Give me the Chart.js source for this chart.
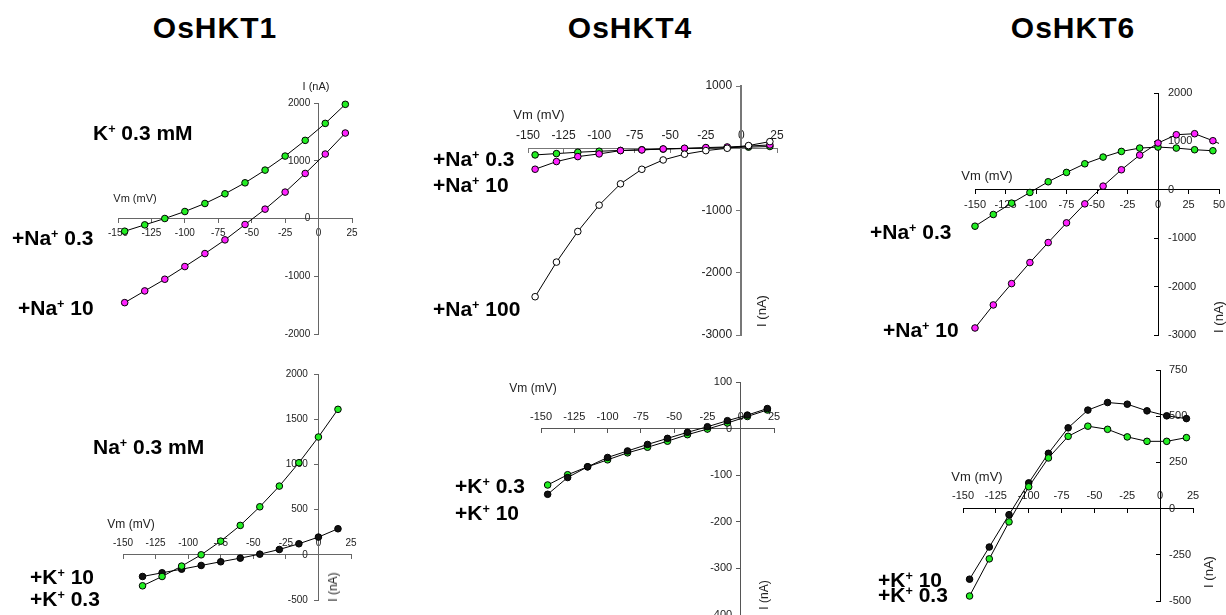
<!DOCTYPE html>
<html>
<head>
<meta charset="utf-8">
<script src="https://cdn.jsdelivr.net/npm/chart.js@4.4.1/dist/chart.umd.min.js"></script>
<style>
  body { margin:0; width:1226px; height:615px; overflow:hidden; background:#fff; position:relative;
         font-family: Arial, "Liberation Sans", sans-serif; }
  .box { position:absolute; }
  .title { position:absolute; font-weight:bold; font-size:30px; line-height:1; letter-spacing:1px;
           transform:translate(-50%,-50%); white-space:nowrap; }
  .lbl { position:absolute; font-weight:bold; font-size:21px; line-height:1; white-space:nowrap;
         transform:translateY(-50%); }
  .lbl sup { font-size:0.6em; position:relative; top:-0.55em; vertical-align:baseline; }
  .ax { position:absolute; white-space:nowrap; color:#222; line-height:1; transform:translate(-50%,-50%); }
  .ax.rot { transform:translate(-50%,-50%) rotate(-90deg); }
</style>
</head>
<body>
<script>
// I-V curves, Vm in mV, I in nA
const vmA = [-145, -130, -115, -100, -85, -70, -55, -40, -25, -10, 5, 20];
const vmB = [-135, -120, -105, -90, -75, -60, -45, -30, -15, 0, 15];
const vmC = [-150, -135, -120, -105, -90, -75, -60, -45, -30, -15, 0, 15, 30, 45, 60];

// OsHKT1, K+ 0.3 mM background
const hkt1_na03 = [-220, -110, 0, 121, 260, 428, 618, 838, 1081, 1353, 1647, 1977];
const hkt1_na10 = [-1457, -1254, -1052, -832, -607, -370, -104, 162, 457, 780, 1116, 1480];
// OsHKT1, Na+ 0.3 mM background
const hkt1_k03 = [-343, -240, -125, 0, 151, 325, 531, 760, 1018, 1303, 1609];
const hkt1_k10 = [-240, -199, -159, -118, -77, -37, 7, 59, 122, 196, 288];

// OsHKT4
const hkt4_na03 = [-107, -86, -64, -48, -35, -24, -14, -5, 3, 10, 18, 28];
const hkt4_na10 = [-337, -214, -134, -91, -38, -27, -11, 0, 11, 21, 35, 53];
const hkt4_na100 = [-2385, -1829, -1337, -914, -572, -338, -188, -96, -38, 0, 43, 107];
const hkt4_k03 = [-121, -99, -82, -67, -52, -40, -27, -13, -1, 12, 26, 40];
const hkt4_k10 = [-141, -105, -82, -62, -48, -34, -21, -8, 4, 17, 29, 43];

// OsHKT6
const hkt6_na03 = [-752, -510, -276, -55, 166, 359, 538, 676, 793, 862, 883, 862, 828, 807];
const hkt6_na10 = [-2855, -2379, -1938, -1503, -1090, -683, -290, 76, 414, 717, 966, 1138, 1159, 1014, 845];
const hkt6_k10 = [-382, -208, -33, 139, 299, 437, 533, 574, 565, 529, 502, 487];
const hkt6_k03 = [-473, -272, -72, 118, 274, 391, 446, 429, 388, 364, 364, 384];

const GREEN = '#22ee22', MAGENTA = '#ff22ff', BLACK = '#111111', WHITE = '#ffffff';
const FONT = 'Arial, "Liberation Sans", sans-serif';

function series(xs, ys, fill, clipRight) {
  return {
    data: ys.map((y, i) => ({ x: xs[i], y })),
    showLine: true,
    borderColor: '#000', borderWidth: 1,
    pointBackgroundColor: fill, pointBorderColor: '#000', pointBorderWidth: 1,
    pointRadius: 3.3,
    clip: { left: 8, top: 8, bottom: 8, right: clipRight == null ? 8 : clipRight }
  };
}

function makePanel(p) {
  const P = 40;
  const [l, t, r, b] = p.area;
  const w = r - l + 2 * P, h = b - t + 2 * P;
  const wrap = document.createElement('div');
  wrap.className = 'box';
  wrap.style.left = (l - P) + 'px';
  wrap.style.top = (t - P) + 'px';
  const cv = document.createElement('canvas');
  cv.width = w; cv.height = h;
  wrap.appendChild(cv);
  document.body.appendChild(wrap);
  const tickFont = { family: FONT, size: p.font };
  const gap = p.gap || '';
  const fmt = v => (p.hideY0 && v === 0) ? '' : String(v) + gap;
  const scales = {
    x: {
      type: 'linear', position: { y: 0 }, min: p.x[0], max: p.x[1],
      ticks: { stepSize: p.x[2], font: tickFont, color: '#222', padding: p.xPad,
               maxRotation: 0, autoSkip: false, callback: v => String(v) },
      grid: { drawOnChartArea: false, tickLength: 4, color: p.axis },
      border: { color: p.axis, width: 1 }
    },
    y: {
      type: 'linear', position: { x: 0 }, min: p.y[0], max: p.y[1],
      ticks: { display: p.rightLabels == null, stepSize: p.y[2], font: tickFont, color: '#222',
               autoSkip: false, callback: fmt },
      grid: { drawOnChartArea: false, tickLength: 4, color: p.axis },
      border: { color: p.axis, width: p.yw || 1 }
    }
  };
  if (p.rightLabels != null) {
    // tick labels sitting on the right side of the zero axis
    scales.yl = {
      type: 'linear', position: 'left', min: p.y[0], max: p.y[1],
      ticks: { stepSize: p.y[2], font: tickFont, color: '#222', mirror: true,
               padding: p.rightLabels, autoSkip: false, callback: v => String(v) },
      grid: { display: false }, border: { display: false },
      afterFit: s => { s.width = 0; s.paddingTop = 6; s.paddingBottom = 6; }
    };
  }
  new Chart(cv, {
    type: 'scatter',
    data: { datasets: p.sets },
    options: {
      responsive: false, animation: false, events: [],
      layout: { padding: P },
      plugins: { legend: { display: false }, tooltip: { enabled: false } },
      scales
    }
  });
}

makePanel({ area: [118, 103, 352, 334], x: [-150, 25, 25], y: [-2000, 2000, 1000], font: 10,
  xPad: 5, gap: '   ', axis: '#666',
  sets: [series(vmA, hkt1_na03, GREEN), series(vmA, hkt1_na10, MAGENTA)] });
makePanel({ area: [123, 374, 351, 600], x: [-150, 25, 25], y: [-500, 2000, 500], font: 10,
  xPad: -22, gap: '\u2002  ', axis: '#666',
  sets: [series(vmB, hkt1_k03, GREEN), series(vmB, hkt1_k10, BLACK)] });
makePanel({ area: [528, 86, 777, 335], x: [-150, 25, 25], y: [-3000, 1000, 1000], font: 12,
  xPad: -24, gap: '\u2002 ', axis: '#777', yw: 2, hideY0: true,
  sets: [series(vmA, hkt4_na100, WHITE), series(vmA, hkt4_na10, MAGENTA), series(vmA, hkt4_na03, GREEN)] });
makePanel({ area: [541, 382, 774, 615], x: [-150, 25, 25], y: [-400, 100, 100], font: 11,
  xPad: -22, gap: '\u2002 ', axis: '#555',
  sets: [series(vmA, hkt4_k10, BLACK), series(vmA, hkt4_k03, GREEN)] });
makePanel({ area: [975, 93, 1219, 335], x: [-150, 50, 25], y: [-3000, 2000, 1000], font: 11,
  xPad: 5, rightLabels: 193, axis: '#000',
  sets: [series(vmC, hkt6_na10, MAGENTA, 0), series(vmC, hkt6_na03, GREEN, 0)] });
makePanel({ area: [963, 370, 1193, 601], x: [-150, 25, 25], y: [-500, 750, 250], font: 11,
  xPad: -23, rightLabels: 206, axis: '#000',
  sets: [series(vmA, hkt6_k03, GREEN), series(vmA, hkt6_k10, BLACK)] });

// text overlays
function txt(cls, html, x, y, size) {
  const d = document.createElement('div');
  d.className = cls;
  d.innerHTML = html;
  d.style.left = x + 'px';
  d.style.top = y + 'px';
  if (size) d.style.fontSize = size + 'px';
  document.body.appendChild(d);
}
[['OsHKT1', 215], ['OsHKT4', 630], ['OsHKT6', 1073]].forEach(([s, x]) => txt('title', s, x, 28));

const labels = [
  ['K<sup>+</sup> 0.3 mM', 93, 132], ['+Na<sup>+</sup> 0.3', 12, 237], ['+Na<sup>+</sup> 10', 18, 307],
  ['Na<sup>+</sup> 0.3 mM', 93, 446], ['+K<sup>+</sup> 10', 30, 576], ['+K<sup>+</sup> 0.3', 30, 598],
  ['+Na<sup>+</sup> 0.3', 433, 158], ['+Na<sup>+</sup> 10', 433, 184], ['+Na<sup>+</sup> 100', 433, 308],
  ['+K<sup>+</sup> 0.3', 455, 485], ['+K<sup>+</sup> 10', 455, 512],
  ['+Na<sup>+</sup> 0.3', 870, 231], ['+Na<sup>+</sup> 10', 883, 329],
  ['+K<sup>+</sup> 10', 878, 579], ['+K<sup>+</sup> 0.3', 878, 594]
];
labels.forEach(([s, x, y]) => txt('lbl', s, x, y));

const axisTitles = [
  ['ax', 'I (nA)', 316, 86, 11], ['ax', 'Vm (mV)', 135, 198, 11],
  ['ax', 'Vm (mV)', 131, 524, 12], ['ax rot', 'I (nA)', 333, 587, 12],
  ['ax', 'Vm (mV)', 539, 114, 13], ['ax rot', 'I (nA)', 761, 311, 13],
  ['ax', 'Vm (mV)', 533, 388, 12], ['ax rot', 'I (nA)', 764, 595, 12],
  ['ax', 'Vm (mV)', 987, 175, 13], ['ax rot', 'I (nA)', 1218, 317, 13],
  ['ax', 'Vm (mV)', 977, 476, 13], ['ax rot', 'I (nA)', 1208, 572, 13]
];
axisTitles.forEach(([c, s, x, y, f]) => txt(c, s, x, y, f));
</script>
</body>
</html>
